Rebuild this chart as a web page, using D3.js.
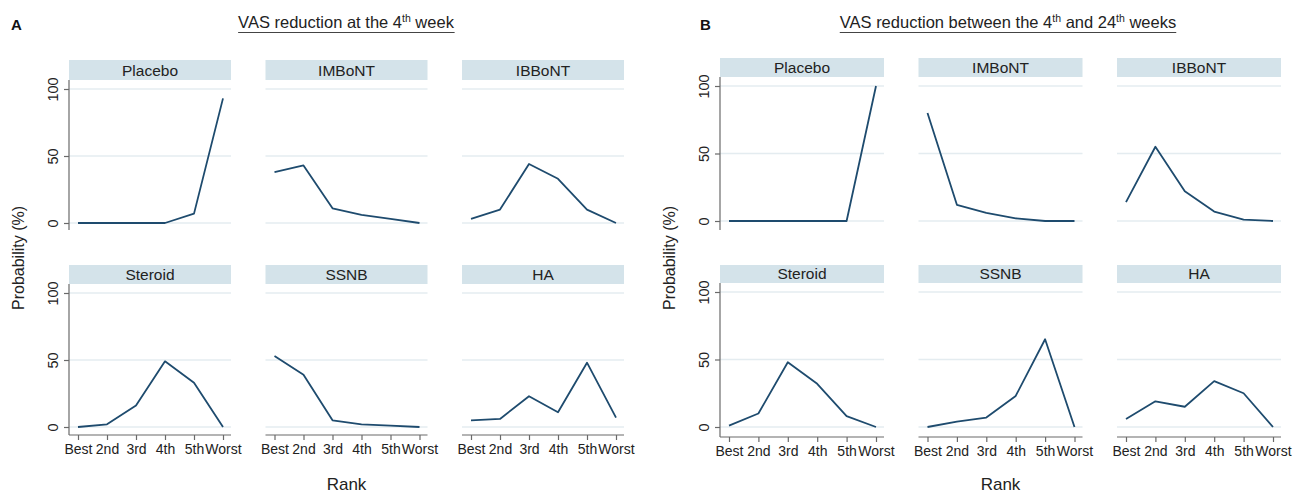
<!DOCTYPE html>
<html>
<head>
<meta charset="utf-8">
<script src="https://cdn.jsdelivr.net/npm/d3@7"></script>
<style>
  html, body { margin: 0; padding: 0; background: #fff; }
  svg { display: block; font-family: "Liberation Sans", Arial, sans-serif; }
</style>
</head>
<body>
<svg id="chart" width="1299" height="493"></svg>
<script>
// ---- data ----
const ranks = ["Best", "2nd", "3rd", "4th", "5th", "Worst"];
const treatments = ["Placebo", "IMBoNT", "IBBoNT", "Steroid", "SSNB", "HA"];
const yTicks = [0, 50, 100];

// Panel A: VAS reduction at the 4th week (probability %, by rank)
const weekA_Placebo = [0, 0, 0, 0, 7, 93];
const weekA_IMBoNT  = [38, 43, 11, 6, 3, 0];
const weekA_IBBoNT  = [3, 10, 44, 33, 10, 0];
const weekA_Steroid = [0, 2, 16, 49, 33, 0];
const weekA_SSNB    = [53, 39, 5, 2, 1, 0];
const weekA_HA      = [5, 6, 23, 11, 48, 7];

// Panel B: VAS reduction between the 4th and 24th weeks
const weekB_Placebo = [0, 0, 0, 0, 0, 100];
const weekB_IMBoNT  = [80, 12, 6, 2, 0, 0];
const weekB_IBBoNT  = [14, 55, 22, 7, 1, 0];
const weekB_Steroid = [1, 10, 48, 32, 8, 0];
const weekB_SSNB    = [0, 4, 7, 23, 65, 0];
const weekB_HA      = [6, 19, 15, 34, 25, 0];

const seriesA = [weekA_Placebo, weekA_IMBoNT, weekA_IBBoNT, weekA_Steroid, weekA_SSNB, weekA_HA];
const seriesB = [weekB_Placebo, weekB_IMBoNT, weekB_IBBoNT, weekB_Steroid, weekB_SSNB, weekB_HA];

// ---- styling ----
const LINE = "#1e4b6e";
const HEADER = "#d4e3ea";
const GRID = "#e4ecf0";
const AXIS = "#6a6a6a";
const TEXT = "#222";
const FONT = "Liberation Sans, Arial, sans-serif";

const svg = d3.select("#chart");

function drawPanel(cfg) {
  const g = svg.append("g");
  // panel letter
  g.append("text").attr("x", cfg.letterX).attr("y", 30)
    .attr("font-size", 15).attr("font-weight", "bold").attr("fill", "#111")
    .text(cfg.letter);
  // title with superscripts
  const t = g.append("text").attr("x", cfg.titleX).attr("y", 28)
    .attr("text-anchor", "middle").attr("font-size", 16.5).attr("fill", TEXT);
  cfg.titleParts.forEach(p => {
    if (p.sup) {
      t.append("tspan").attr("font-size", 10.5).attr("dy", -6.5).text(p.t);
      t.append("tspan").attr("dy", 6.5).text(" ");
    } else {
      t.append("tspan").text(p.t);
    }
  });
  const bb = t.node().getBBox();
  g.append("line").attr("x1", bb.x).attr("x2", bb.x + bb.width)
    .attr("y1", 32.5).attr("y2", 32.5).attr("stroke", "#444").attr("stroke-width", 1.2);

  cfg.rows.forEach((row, ri) => {
    const y = d3.scaleLinear().domain([0, 100]).range([row.y0, row.y100]);
    for (let ci = 0; ci < 3; ci++) {
      const idx = ri * 3 + ci;
      const left = cfg.left + ci * cfg.step;
      const right = left + cfg.width;
      const x = d3.scalePoint().domain(ranks).range([left + 9, right - 8]);
      const fg = g.append("g");
      // header strip
      fg.append("rect").attr("x", left).attr("y", row.headTop)
        .attr("width", cfg.width).attr("height", row.headBot - row.headTop)
        .attr("fill", HEADER);
      fg.append("text").attr("x", (left + right) / 2).attr("y", row.headBot - 4.5)
        .attr("text-anchor", "middle").attr("font-size", 15.5).attr("fill", TEXT)
        .text(treatments[idx]);
      // gridlines
      fg.selectAll("line.grid").data(yTicks).join("line").attr("class", "grid")
        .attr("x1", left).attr("x2", right)
        .attr("y1", d => y(d)).attr("y2", d => y(d))
        .attr("stroke", GRID).attr("stroke-width", 1.5);
      // y axis on first column
      if (ci === 0) {
        const ya = fg.append("g").attr("transform", `translate(${left},0)`)
          .call(d3.axisLeft(y).tickValues(yTicks).tickSize(5).tickSizeOuter(0));
        ya.select(".domain").remove();
        fg.append("line").attr("x1", left).attr("x2", left)
          .attr("y1", row.headBot).attr("y2", row.axisY)
          .attr("stroke", AXIS).attr("stroke-width", 1.2);
        ya.selectAll(".tick line").attr("stroke", AXIS).attr("stroke-width", 1.2);
        ya.selectAll(".tick text")
          .attr("font-size", 14.5).attr("fill", TEXT)
          .attr("font-family", FONT)
          .attr("transform", "rotate(-90)")
          .attr("x", 0).attr("y", -11).attr("dy", 0)
          .attr("text-anchor", "middle");
      }
      // x axis on bottom row
      if (ri === 1) {
        const xa = fg.append("g").attr("transform", `translate(0,${row.axisY})`)
          .call(d3.axisBottom(x).tickSize(5).tickSizeOuter(0));
        xa.select(".domain").remove();
        fg.append("line").attr("x1", left).attr("x2", right)
          .attr("y1", row.axisY).attr("y2", row.axisY)
          .attr("stroke", AXIS).attr("stroke-width", 1.2);
        xa.selectAll(".tick line").attr("stroke", AXIS).attr("stroke-width", 1.2);
        xa.selectAll(".tick text").attr("font-size", 14).attr("fill", TEXT)
          .attr("font-family", FONT)
          .attr("y", 9).attr("dy", "0.71em");
      }
      // data line
      const vals = cfg.series[idx];
      fg.append("path").datum(vals)
        .attr("fill", "none").attr("stroke", LINE).attr("stroke-width", 1.8)
        .attr("stroke-linejoin", "round")
        .attr("d", d3.line().x((d, i) => x(ranks[i])).y(d => y(d)));
    }
  });
  // axis titles
  g.append("text").attr("transform", `translate(${cfg.ylabX},258) rotate(-90)`)
    .attr("text-anchor", "middle").attr("font-size", 16).attr("fill", TEXT)
    .text("Probability (%)");
  g.append("text").attr("x", cfg.left + cfg.step + cfg.width / 2).attr("y", 490)
    .attr("text-anchor", "middle").attr("font-size", 17).attr("fill", TEXT)
    .text("Rank");
}

drawPanel({
  letter: "A", letterX: 11, titleX: 346,
  titleParts: [{t: "VAS reduction at the 4"}, {t: "th", sup: true}, {t: "week"}],
  left: 69, width: 162, step: 196.5, ylabX: 24,
  rows: [
    {headTop: 60, headBot: 80, y0: 223, y100: 89, axisY: 230},
    {headTop: 265, headBot: 284, y0: 427, y100: 293, axisY: 435}
  ],
  series: seriesA
});

drawPanel({
  letter: "B", letterX: 700, titleX: 1008,
  titleParts: [{t: "VAS reduction between the 4"}, {t: "th", sup: true}, {t: "and 24"}, {t: "th", sup: true}, {t: "weeks"}],
  left: 720, width: 164, step: 198.5, ylabX: 675,
  rows: [
    {headTop: 58, headBot: 77, y0: 221, y100: 86, axisY: 230},
    {headTop: 265, headBot: 283, y0: 427, y100: 292, axisY: 437}
  ],
  series: seriesB
});
</script>
</body>
</html>
